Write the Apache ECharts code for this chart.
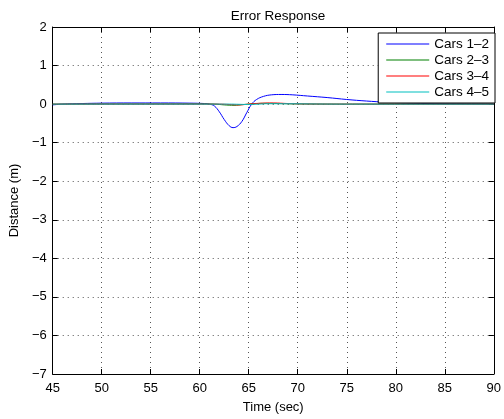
<!DOCTYPE html>
<html>
<head>
<meta charset="utf-8">
<script src="https://cdn.jsdelivr.net/npm/echarts@6/dist/echarts.min.js"></script>
<style>
html, body { margin: 0; padding: 0; background: #fff; }
#myChart { width: 504px; height: 419px; }
</style>
</head>
<body>
<div id="myChart"></div>
<script>
// values
const seriesNames = ['Cars 1\u20132', 'Cars 2\u20133', 'Cars 3\u20134', 'Cars 4\u20135']
const xTicks = [45, 50, 55, 60, 65, 70, 75, 80, 85, 90]
const yTicks = [-7, -6, -5, -4, -3, -2, -1, 0, 1, 2]

const t12 = [45, 46, 48, 50, 53, 56, 59, 60.5, 61, 61.5, 62, 62.5, 63, 63.4, 63.8, 64.3, 64.8, 65.3, 65.8, 66.5, 67.3, 68.3, 69.5, 71, 73, 75, 77, 79, 81, 84, 87, 90]
const e12 = [-0.02, 0, 0.015, 0.025, 0.03, 0.03, 0.025, 0.015, 0, -0.05, -0.2, -0.4, -0.56, -0.61, -0.58, -0.45, -0.22, 0, 0.12, 0.2, 0.24, 0.25, 0.24, 0.21, 0.17, 0.12, 0.08, 0.05, 0.03, 0.01, 0.005, 0]

const t23 = [45, 60, 61.5, 62.5, 63.5, 64.5, 65.5, 66.5, 68, 70, 75, 90]
const e23 = [0, 0.005, 0, -0.02, -0.03, -0.01, 0.01, 0.02, 0.015, 0.005, 0, 0]

const t34 = [45, 62, 63, 64, 65, 66, 67.5, 69, 71, 75, 90]
const e34 = [0, 0, -0.01, -0.02, 0, 0.02, 0.03, 0.015, 0.005, 0, 0]

const t45 = [45, 63, 64, 65, 66, 67, 69, 72, 75, 90]
const e45 = [0, 0, -0.005, -0.01, 0, 0.01, 0.01, 0.003, 0, 0]

const colors = ['#0000ff', '#008000', '#ff0000', '#00bfbf']

function pairs(t, v) {
  return t.map((x, i) => [x, v[i]])
}

const font = 'Liberation Sans, Arial, Helvetica, sans-serif'
const minus = v => String(v).replace('-', '\u2212')

let myChart = echarts.init(document.getElementById('myChart'))

const baseX = {
  type: 'value',
  min: xTicks[0],
  max: xTicks[xTicks.length - 1],
  interval: 5,
  axisLine: { show: true, onZero: false, lineStyle: { color: '#000', width: 1 } },
  axisTick: { show: true, inside: true, length: 5, lineStyle: { color: '#000' } }
}
const baseY = {
  type: 'value',
  min: yTicks[0],
  max: yTicks[yTicks.length - 1],
  interval: 1,
  axisLine: { show: true, onZero: false, lineStyle: { color: '#000', width: 1 } },
  axisTick: { show: true, inside: true, length: 5, lineStyle: { color: '#000' } }
}

myChart.setOption({
  animation: false,
  color: colors,
  title: {
    text: 'Error Response',
    left: 273,
    textAlign: 'center',
    top: 4,
    textStyle: { fontFamily: font, fontSize: 13.5, fontWeight: 'normal', color: '#000' }
  },
  grid: { left: 50, right: 7, top: 27, bottom: 41 },
  legend: {
    data: seriesNames,
    icon: 'rect',
    orient: 'vertical',
    right: 9,
    top: 33,
    padding: [4, 6, 4, 8],
    itemWidth: 43,
    itemHeight: 1.2,
    itemGap: 2,
    backgroundColor: '#fff',
    borderColor: '#000',
    borderWidth: 1,
    borderRadius: 0,
    textStyle: { fontFamily: font, fontSize: 13.5, color: '#000', lineHeight: 13, padding: [0, 0, 0, 0] }
  },
  xAxis: [
    Object.assign({}, baseX, {
      position: 'bottom',
      name: 'Time (sec)',
      nameLocation: 'middle',
      nameGap: 27,
      nameTextStyle: { fontFamily: font, fontSize: 13, color: '#000' },
      axisLabel: { margin: 8, fontFamily: font, fontSize: 13, color: '#000' },
      splitLine: { show: true, lineStyle: { color: '#555', type: [1, 4], width: 1 } }
    }),
    Object.assign({}, baseX, {
      position: 'top',
      axisLabel: { show: false },
      splitLine: { show: false }
    })
  ],
  yAxis: [
    Object.assign({}, baseY, {
      position: 'left',
      name: 'Distance (m)',
      nameLocation: 'middle',
      nameGap: 26,
      nameTextStyle: { fontFamily: font, fontSize: 13, color: '#000' },
      axisLabel: { margin: 6, fontFamily: font, fontSize: 13, color: '#000', formatter: minus },
      splitLine: { show: true, lineStyle: { color: '#555', type: [1, 4], width: 1 } }
    }),
    Object.assign({}, baseY, {
      position: 'right',
      axisLabel: { show: false },
      splitLine: { show: false }
    })
  ],
  series: [
    { name: seriesNames[0], data: pairs(t12, e12) },
    { name: seriesNames[1], data: pairs(t23, e23) },
    { name: seriesNames[2], data: pairs(t34, e34) },
    { name: seriesNames[3], data: pairs(t45, e45) }
  ].map(s => Object.assign(s, {
    type: 'line',
    xAxisIndex: 0,
    yAxisIndex: 0,
    smooth: 0.4,
    symbol: 'none',
    lineStyle: { width: 1 }
  }))
})
</script>
</body>
</html>
